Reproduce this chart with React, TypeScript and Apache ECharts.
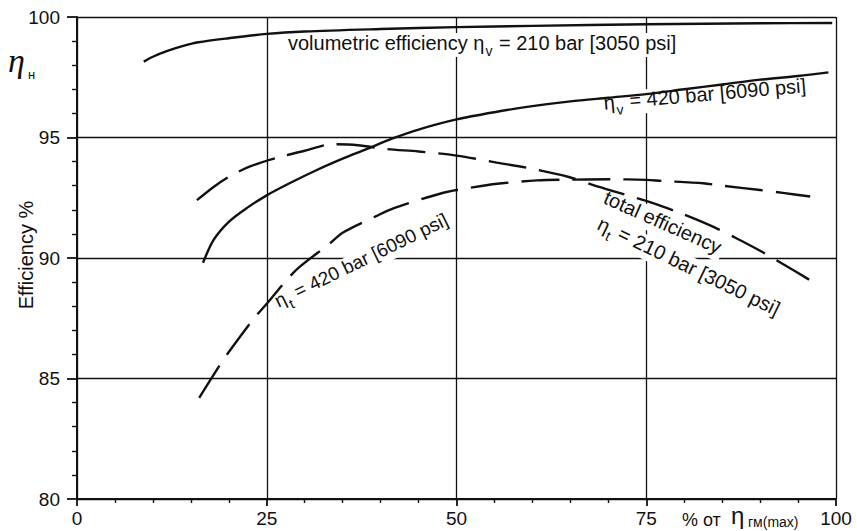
import React, { useEffect, useRef } from "react";
import * as echarts from "echarts";

// ---- data ----
const xTickValues = [0, 25, 50, 75, 100];
const yTickValues = [80, 85, 90, 95, 100];

// volumetric efficiency, 210 bar (solid)
const volEff210: [number, number][] = [
  [8.8, 98.15], [10, 98.35], [12, 98.6], [14, 98.8], [16, 98.95], [20, 99.12],
  [25, 99.3], [30, 99.4], [40, 99.5], [50, 99.58], [60, 99.63], [75, 99.7],
  [90, 99.74], [99.5, 99.75],
];

// volumetric efficiency, 420 bar (solid)
const volEff420: [number, number][] = [
  [16.6, 89.8], [18, 90.75], [20, 91.5], [22.5, 92.1], [25, 92.6], [28, 93.1],
  [31.6, 93.65], [35, 94.12], [38, 94.5], [41.5, 94.95], [45, 95.33], [50, 95.75],
  [55, 96.05], [60, 96.3], [65, 96.5], [70, 96.65], [75, 96.8], [80, 97.0],
  [85, 97.2], [90, 97.4], [95, 97.55], [99, 97.7],
];

// total efficiency, 210 bar (dashed)
const totEff210: [number, number][] = [
  [15.8, 92.4], [18, 92.95], [20.2, 93.4], [22.8, 93.8], [26.7, 94.19], [30, 94.45],
  [33.7, 94.72], [37, 94.68], [40.8, 94.52], [45, 94.42], [50, 94.25], [55.3, 93.96],
  [60, 93.7], [64.8, 93.36], [68.8, 92.95], [72, 92.65], [75.9, 92.28], [80, 91.8],
  [84, 91.27], [87, 90.8], [90, 90.3], [93, 89.75], [97, 89.0],
];

// total efficiency, 420 bar (dashed)
const totEff420: [number, number][] = [
  [16.1, 84.2], [18.8, 85.55], [20, 86.1], [23.2, 87.45], [25, 88.1], [27.8, 89.15],
  [29.4, 89.65], [33.3, 90.6], [35, 91.05], [39.5, 91.75], [41.6, 92.05], [46, 92.5],
  [48.7, 92.74], [53.5, 93.0], [56, 93.1], [60.6, 93.22], [65, 93.25], [70, 93.27],
  [75, 93.24], [77, 93.2], [82.5, 93.1], [85, 93.0], [90, 92.82], [93, 92.7], [96.6, 92.55],
];

// ---- texts ----
const yAxisTitle = "Efficiency %";
const etaSymbol = "η";
const etaHSub = "н";
const xNamePrefix = "% от";
const xNameSub = "гм(max)";
const lblVol210a = "volumetric efficiency η";
const lblVol210b = " = 210 bar [3050 psi]";
const lblVol420 = " = 420 bar [6090 psi]";
const lblTot420 = " = 420 bar [6090 psi]";
const lblTotTitle = "total efficiency";
const lblTot210 = " = 210 bar [3050 psi]";

const FONT = "'Liberation Sans', Arial, sans-serif";
const INK = "#111";
const deg = (d: number) => (d * Math.PI) / 180;

const richStyles = (size: number, subSize: number, drop: number) => ({
  m: { fontSize: size, fontFamily: FONT, fill: INK, color: INK, lineHeight: size + 4, verticalAlign: "top" },
  s: {
    fontSize: subSize,
    fontFamily: FONT,
    fill: INK,
    color: INK,
    lineHeight: subSize,
    verticalAlign: "top",
    padding: [Math.round((size + 4) / 2 + drop - subSize / 2), 1, 0, 1],
  },
});

function label(x: number, y: number, rotDeg: number, text: string, size: number, subSize: number, drop: number, align = "center") {
  return {
    type: "text",
    x,
    y,
    rotation: deg(rotDeg),
    z: 1,
    style: {
      text,
      rich: richStyles(size, subSize, drop),
      fill: INK,
      align,
      verticalAlign: "middle",
      textAlign: align,
      textVerticalAlign: "middle",
      backgroundColor: "#fff",
      padding: [0, 3, 0, 3],
    },
  };
}

export default function App() {
  const ref = useRef<HTMLDivElement>(null);

  useEffect(() => {
    if (!ref.current) return;
    const chart = echarts.init(ref.current, undefined, { renderer: "svg" });

    const axisLine = { show: true, lineStyle: { color: INK, width: 2 } };
    const splitLine = { show: true, lineStyle: { color: INK, width: 1.3 } };
    const axisLabelBase = { color: INK, fontSize: 19, fontFamily: FONT };

    const solid = { color: INK, width: 2.4 };
    const dashed = { color: INK, width: 2.4, type: [38, 13] as any };

    chart.setOption({
      animation: false,
      backgroundColor: "#fff",
      grid: { left: 77, right: 21, top: 17, bottom: 32, containLabel: false },
      xAxis: {
        type: "value",
        min: xTickValues[0],
        max: xTickValues[xTickValues.length - 1],
        interval: xTickValues[1] - xTickValues[0],
        axisLine,
        splitLine,
        axisTick: { show: true, length: 7, lineStyle: { color: INK, width: 1.8 } },
        minorTick: { show: true, splitNumber: 5, length: 4, lineStyle: { color: INK, width: 1.4 } },
        axisLabel: { ...axisLabelBase, margin: 10 },
      },
      yAxis: {
        type: "value",
        min: yTickValues[0],
        max: yTickValues[yTickValues.length - 1],
        interval: yTickValues[1] - yTickValues[0],
        axisLine,
        splitLine,
        axisTick: { show: true, length: 10, lineStyle: { color: INK, width: 1.8 } },
        minorTick: { show: true, splitNumber: 5, length: 5, lineStyle: { color: INK, width: 1.4 } },
        axisLabel: { ...axisLabelBase, margin: 17 },
      },
      series: [
        { type: "line", data: volEff210, showSymbol: false, symbol: "none", smooth: 0.3, lineStyle: solid, z: 3 },
        { type: "line", data: volEff420, showSymbol: false, symbol: "none", smooth: 0.3, lineStyle: solid, z: 3 },
        { type: "line", data: totEff210, showSymbol: false, symbol: "none", smooth: 0.3, lineStyle: dashed, z: 3 },
        { type: "line", data: totEff420, showSymbol: false, symbol: "none", smooth: 0.3, lineStyle: dashed, z: 3 },
      ],
      graphic: {
        elements: [
          // eta_H at top-left
          {
            type: "text", x: 8, y: 60, z: 1,
            style: { text: etaSymbol, fill: INK, font: `italic 34px 'Liberation Serif', serif`, align: "left", verticalAlign: "middle", textAlign: "left", textVerticalAlign: "middle" },
          },
          {
            type: "text", x: 28, y: 74, z: 1,
            style: { text: etaHSub, fill: INK, font: `13px ${FONT}`, align: "left", verticalAlign: "middle", textAlign: "left", textVerticalAlign: "middle" },
          },
          // y axis title
          {
            type: "text", x: 26, y: 255, rotation: deg(90), z: 1,
            style: { text: yAxisTitle, fill: INK, font: `20px ${FONT}`, align: "center", verticalAlign: "middle", textAlign: "center", textVerticalAlign: "middle" },
          },
          // x axis name
          {
            type: "text", x: 682, y: 520, z: 1,
            style: { text: xNamePrefix, fill: INK, font: `18px ${FONT}`, align: "left", verticalAlign: "middle", textAlign: "left", textVerticalAlign: "middle" },
          },
          {
            type: "text", x: 731, y: 515, z: 1,
            style: { text: etaSymbol, fill: INK, font: `24px ${FONT}`, align: "left", verticalAlign: "middle", textAlign: "left", textVerticalAlign: "middle" },
          },
          {
            type: "text", x: 748, y: 522, z: 1,
            style: { text: xNameSub, fill: INK, font: `14px ${FONT}`, align: "left", verticalAlign: "middle", textAlign: "left", textVerticalAlign: "middle" },
          },
          // curve labels
          label(285, 45, 0, `{m|${lblVol210a}}{s|v}{m|${lblVol210b}}`, 20, 14, 6, "left"),
          label(705, 96, 5, `{m|${etaSymbol}}{s|v}{m|${lblVol420}}`, 20, 14, 6),
          label(362, 262, 26, `{m|${etaSymbol}}{s|t}{m|${lblTot420}}`, 19, 14, 6),
          label(662, 224, -24, `{m|${lblTotTitle}}`, 20, 14, 6),
          label(688, 268, -26, `{m|${etaSymbol}}{s|t}{m|${lblTot210}}`, 20, 14, 6),
        ],
      },
    });

    return () => chart.dispose();
  }, []);

  return (
    <div
      ref={ref}
      style={{ position: "absolute", left: 0, top: 0, width: 857, height: 531 }}
    />
  );
}
